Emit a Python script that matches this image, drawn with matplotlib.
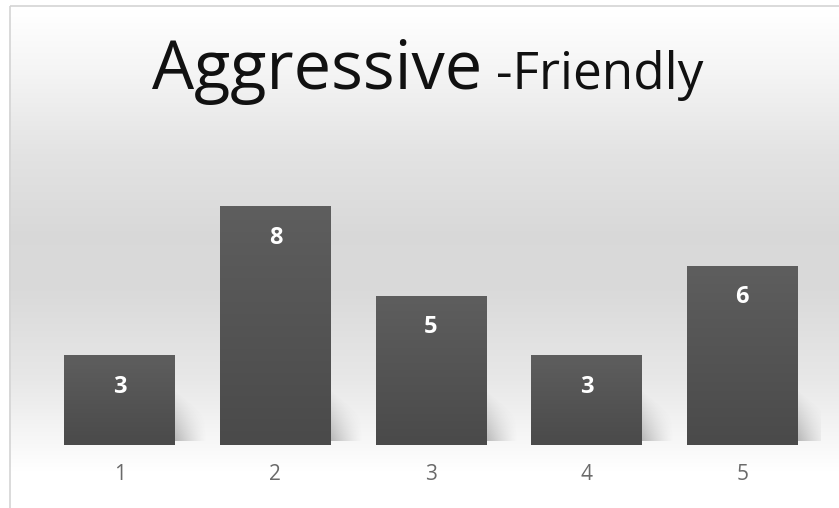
import numpy as np
import matplotlib
matplotlib.use("Agg")
import matplotlib.pyplot as plt
from matplotlib.patches import Rectangle
from matplotlib.colors import LinearSegmentedColormap

categories = ["1", "2", "3", "4", "5"]
values = [3, 8, 5, 3, 6]
title_main = "Aggressive"
title_sub = "-Friendly"

W, H = 839, 508
fig = plt.figure(figsize=(W / 100, H / 100), dpi=100)

# background gradient (figure-level)
bg = fig.add_axes([0, 0, 1, 1], zorder=0)
bg.axis("off")
stops_y = [0, 5, 60, 150, 230, 290, 380, 440, 470, 508]
stops_v = [1.0, 1.0, 0.965, 0.89, 0.85, 0.855, 0.91, 0.97, 1.0, 1.0]
ys = np.arange(H)
col = np.interp(ys, stops_y, stops_v)
img = np.repeat(col[:, None], 2, axis=1)
bg.imshow(np.dstack([img, img, img]), extent=[9, W, H, 5], aspect="auto", interpolation="bilinear")
bg.set_xlim(0, W)
bg.set_ylim(H, 0)
bg.add_patch(Rectangle((9.5, 5.5), W, H, fill=False, edgecolor="#d4d4d4", lw=1.2))

tm = bg.text(150, 89, title_main, fontsize=48, family="Open Sans", ha="left",
             va="baseline", color="#111111")
ts = bg.text(480, 89, title_sub, fontsize=37, family="Open Sans", ha="left",
             va="baseline", color="#111111")
fig.canvas.draw()
r = fig.canvas.get_renderer()
bb1 = tm.get_window_extent(r)
bb2 = ts.get_window_extent(r)
gap = 14
total = bb1.width + gap + bb2.width
start = 428 - total / 2
tm.set_x(start)
ts.set_x(start + bb1.width + gap)

# main axes
ax = fig.add_axes([42 / W, 63 / H, (820 - 42) / W, (445 - 140) / H], zorder=1)
ax.patch.set_alpha(0)
x = np.arange(len(categories))
width = 0.713
bars = ax.bar(x, values, width=width, color="#555555", zorder=3)

# bar gradients and shadows
grad = LinearSegmentedColormap.from_list("g", ["#4a4a4a", "#5e5e5e"])
for b, v in zip(bars, values):
    x0, w = b.get_x(), b.get_width()
    im = ax.imshow(np.linspace(0, 1, 100)[:, None], cmap=grad, extent=[x0, x0 + w, 0, v],
                   origin="lower", aspect="auto", zorder=3.5)
    im.set_clip_path(b)
    nx, ny = 60, 60
    gx = np.linspace(0, 1, nx)[None, :]
    gy = np.linspace(0, 1, ny)[:, None]
    alpha = (1 - gx) ** 1.3 * np.clip(1 - gy / (1.0 - 0.5 * gx), 0, 1) * 0.4
    rgba = np.zeros((ny, nx, 4))
    rgba[..., 0:3] = 0.35
    rgba[..., 3] = alpha
    ax.imshow(rgba, extent=[x0 + w, x0 + w + 0.2, 0.15, 0.15 + min(v, 1.7)],
              origin="lower", aspect="auto", zorder=2, interpolation="bilinear")
    ax.text(x0 + w / 2, v - 1.05, str(v), ha="center", va="center", color="white",
            fontsize=17, fontweight="bold", family="Open Sans", zorder=5)

ax.set_xlim(-0.5, len(categories) - 0.5)
ax.set_ylim(0, 305 / 29.85)
ax.set_xticks(x)
ax.set_xticklabels(categories, fontsize=15, color="#6a6a6a", family="Open Sans")
ax.tick_params(axis="x", length=0, pad=14)
ax.set_yticks([])
for s in ax.spines.values():
    s.set_visible(False)

fig.savefig("out.png", dpi=100)
